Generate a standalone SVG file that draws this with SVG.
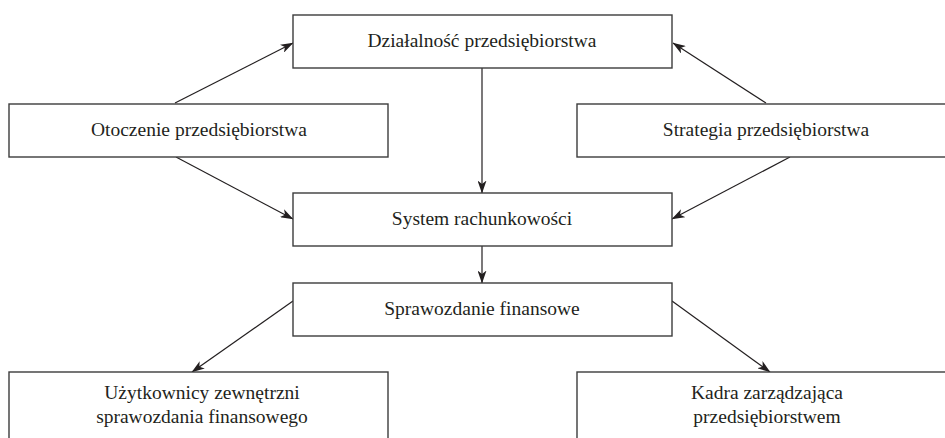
<svg xmlns="http://www.w3.org/2000/svg" width="945" height="438" viewBox="0 0 945 438">
  <style>
    .box { fill: #ffffff; stroke: #3c3c3c; stroke-width: 1.4; }
    .lbl { font-family: "Liberation Serif", "DejaVu Serif", serif; font-size: 19.5px; fill: #231f20; text-anchor: middle; }
    .edge { fill: none; stroke: #231f20; stroke-width: 1.2; marker-end: url(#arrow); }
  </style>
  <defs>
    <marker id="arrow" viewBox="0 0 13 9" refX="12.5" refY="4.5" markerWidth="13" markerHeight="9" markerUnits="userSpaceOnUse" orient="auto">
      <path d="M0,0 L13,4.5 L0,9 L3.5,4.5 Z" fill="#231f20"/>
    </marker>
  </defs>
  <rect width="945" height="438" fill="#ffffff"/>

  <g id="connectors">
    <line class="edge" x1="175" y1="103" x2="293" y2="43"/>
    <line class="edge" x1="766" y1="103" x2="673" y2="43"/>
    <line class="edge" x1="482" y1="68" x2="482" y2="193"/>
    <line class="edge" x1="176" y1="157" x2="293" y2="219"/>
    <line class="edge" x1="790" y1="157" x2="672" y2="219"/>
    <line class="edge" x1="482" y1="246" x2="482" y2="283"/>
    <line class="edge" x1="293" y1="301" x2="192" y2="372"/>
    <line class="edge" x1="672" y1="301" x2="770" y2="372"/>
  </g>

  <g id="dzialalnosc">
    <rect class="box" x="293" y="15" width="379" height="53"/>
    <text class="lbl" x="482" y="47">Działalność przedsiębiorstwa</text>
  </g>
  <g id="otoczenie">
    <rect class="box" x="9" y="104" width="379" height="53"/>
    <text class="lbl" x="199" y="136">Otoczenie przedsiębiorstwa</text>
  </g>
  <g id="strategia">
    <rect class="box" x="577" y="104" width="379" height="53"/>
    <text class="lbl" x="766" y="136">Strategia przedsiębiorstwa</text>
  </g>
  <g id="system">
    <rect class="box" x="293" y="193" width="379" height="53"/>
    <text class="lbl" x="482" y="225">System rachunkowości</text>
  </g>
  <g id="sprawozdanie">
    <rect class="box" x="293" y="283" width="379" height="53"/>
    <text class="lbl" x="482" y="315">Sprawozdanie finansowe</text>
  </g>
  <g id="uzytkownicy">
    <rect class="box" x="9" y="372" width="379" height="80"/>
    <text class="lbl" x="202" y="399">Użytkownicy zewnętrzni</text>
    <text class="lbl" x="202" y="423">sprawozdania finansowego</text>
  </g>
  <g id="kadra">
    <rect class="box" x="577" y="372" width="379" height="80"/>
    <text class="lbl" x="767" y="399">Kadra zarządzająca</text>
    <text class="lbl" x="767" y="423">przedsiębiorstwem</text>
  </g>
</svg>
